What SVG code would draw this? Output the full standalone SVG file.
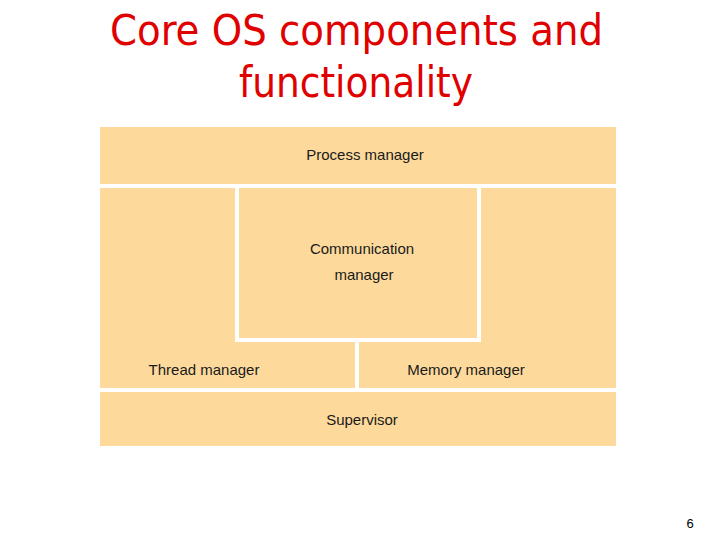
<svg xmlns="http://www.w3.org/2000/svg" width="720" height="540" viewBox="0 0 720 540">
<style>
.box{fill:#FDDA9C;stroke:none}
.lbl{font-family:"Liberation Sans",Arial,sans-serif;font-size:15px;fill:#1a1a1a;text-anchor:middle}
.title{font-family:"DejaVu Sans Condensed","DejaVu Sans",sans-serif;font-size:43px;fill:#E00000;text-anchor:middle}
</style>
<rect width="720" height="540" fill="#ffffff"/>
<g id="title">
<text class="title" x="356.5" y="45" textLength="493" lengthAdjust="spacingAndGlyphs">Core OS components and</text>
<text class="title" x="356" y="97" textLength="234" lengthAdjust="spacingAndGlyphs">functionality</text>
</g>
<g id="process-manager">
<rect class="box" x="100" y="127" width="516" height="57"/>
<text class="lbl" x="365" y="160">Process manager</text>
</g>
<g id="communication-manager">
<rect class="box" x="239" y="188" width="238" height="150"/>
<text class="lbl" x="362" y="254">Communication</text>
<text class="lbl" x="364" y="280">manager</text>
</g>
<g id="thread-manager">
<polygon class="box" points="100,188 235,188 235,342 355,342 355,388 100,388"/>
<text class="lbl" x="204" y="375">Thread manager</text>
</g>
<g id="memory-manager">
<polygon class="box" points="481,188 616,188 616,388 359,388 359,342 481,342"/>
<text class="lbl" x="466" y="375">Memory manager</text>
</g>
<g id="supervisor">
<rect class="box" x="100" y="392" width="516" height="54"/>
<text class="lbl" x="362" y="425">Supervisor</text>
</g>
<g id="connectors"></g>
<text x="690" y="528" font-family="Liberation Sans,Arial,sans-serif" font-size="13" fill="#000" text-anchor="middle">6</text>
</svg>
